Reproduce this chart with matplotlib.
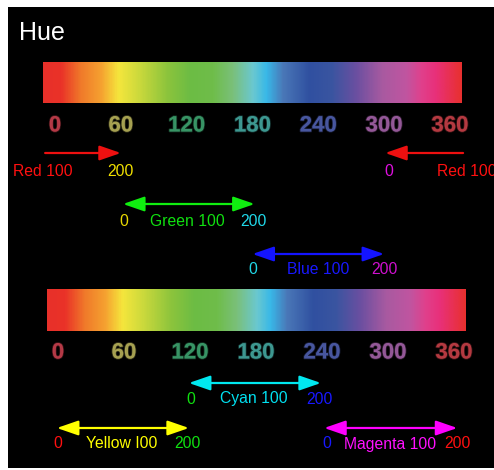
import matplotlib
matplotlib.use("Agg")
import matplotlib.pyplot as plt
import matplotlib.patheffects as pe
import numpy as np
from matplotlib.colors import LinearSegmentedColormap

# colour stops of the hue bar (hue degree, colour)
bar_hues = [-11, 4.6, 22.8, 41, 57.4, 77.5, 102, 123, 144, 162, 180.5, 193, 208,
            232, 253, 275, 299, 321, 335, 348, 371]
bar_colors = ['#e8302a', '#ea3228', '#f07a2a', '#f5a030', '#f5e63c', '#c8d83c',
              '#8cc43c', '#6cbc44', '#6fbd4a', '#7ac07a', '#6ac8d0', '#38b8e8',
              '#4a78b8', '#3050a0', '#3a55a0', '#6a4fa0', '#a85aa0', '#c055a0',
              '#e0408c', '#e8307a', '#e83030']

# tick numbers under the bars
hue_ticks = [0, 60, 120, 180, 240, 300, 360]
tick_colors = ['#c8404e', '#b8b25a', '#3ea470', '#44a8a0', '#5060b0', '#a462a8', '#c84048']

# arrows: (start hue, end hue, colour, style, row y)
top_arrows = [(-9, 60, '#ee1010', '-|>', 153),
              (372, 301, '#ee1010', '-|>', 153),
              (62, 182, '#10ee10', '<|-|>', 204),
              (180, 300, '#1414ff', '<|-|>', 254)]
bottom_arrows = [(119, 239, '#00e8f0', '<|-|>', 383),
                 (-1, 119, '#ffff00', '<|-|>', 428),
                 (242, 363, '#ff00ff', '<|-|>', 428)]

# labels: (text, hue, colour, row y)
top_labels = [('Red 100', -11.4, '#ff1010', 171), ('200', 60, '#f0e000', 171),
              ('0', 304.5, '#e010e0', 171), ('Red 100', 375, '#ff1010', 171),
              ('0', 63, '#e8d800', 221), ('Green 100', 121, '#10e010', 221),
              ('200', 181, '#20d8e8', 221),
              ('0', 180.5, '#20d8e8', 269), ('Blue 100', 240, '#1818ff', 269),
              ('200', 300, '#d010d0', 269)]
bottom_labels = [('0', 121, '#10e010', 399), ('Cyan 100', 178, '#00e0f0', 399),
                 ('200', 238, '#1818ff', 399),
                 ('0', 0, '#ff1010', 444), ('Yellow I00', 58, '#ffff00', 444),
                 ('200', 118, '#10e010', 444),
                 ('0', 244.5, '#1818ff', 444), ('Magenta 100', 302, '#ff10ff', 444),
                 ('200', 363, '#ff1010', 444)]

W, H = 494, 470
fig = plt.figure(figsize=(W / 100, H / 100), dpi=100, facecolor='white')

bg = fig.add_axes([8 / W, 2 / H, 486 / W, 461 / H])
bg.set_facecolor('black')
bg.set_xticks([])
bg.set_yticks([])
for s in bg.spines.values():
    s.set_visible(False)

fig.text(19 / W, 1 - 33 / H, 'Hue', color='white', fontsize=18,
         family=['Liberation Sans', 'DejaVu Sans'], va='center', ha='left')

pos = [(h + 11) / 382 for h in bar_hues]
cmap = LinearSegmentedColormap.from_list('hue', list(zip(pos, bar_colors)))
grad = np.linspace(0, 1, 600).reshape(1, -1)


def panel(px0, scale, bar_ext, bar_y, tick_y, arrows, labels):
    ax = fig.add_axes([0, 0, 1, 1])
    ax.patch.set_alpha(0)
    ax.axis('off')
    ax.imshow(grad, extent=(bar_ext[0], bar_ext[1], bar_y[1], bar_y[0]),
              aspect='auto', cmap=cmap, interpolation='bilinear')
    ax.set_xlim(-px0 / scale, (W - px0) / scale)
    ax.set_ylim(H, 0)
    for h, c in zip(hue_ticks, tick_colors):
        ax.text(h, tick_y, str(h), color=c, fontsize=16, fontweight='bold',
                family=['Liberation Sans', 'DejaVu Sans'],
                ha='center', va='center', alpha=0.85,
                path_effects=[pe.withStroke(linewidth=1.2, foreground=c, alpha=0.3)])
    for a, b, c, st, y in arrows:
        ax.annotate('', xy=(b, y), xytext=(a, y),
                    arrowprops=dict(arrowstyle=st + ',head_length=1.3,head_width=0.45',
                                    color=c, lw=1.6, shrinkA=0, shrinkB=0,
                                    mutation_scale=10))
    for t, h, c, y in labels:
        ax.text(h, y, t, color=c, fontsize=11.3, family=['Liberation Sans', 'DejaVu Sans'],
                ha='center', va='center')


panel(55, 1.097, (-10.9, 371), (62, 103), 126, top_arrows, top_labels)
panel(58, 1.1, (-10, 370), (289, 331), 353, bottom_arrows, bottom_labels)

fig.savefig('out.png', dpi=100, facecolor='white')
